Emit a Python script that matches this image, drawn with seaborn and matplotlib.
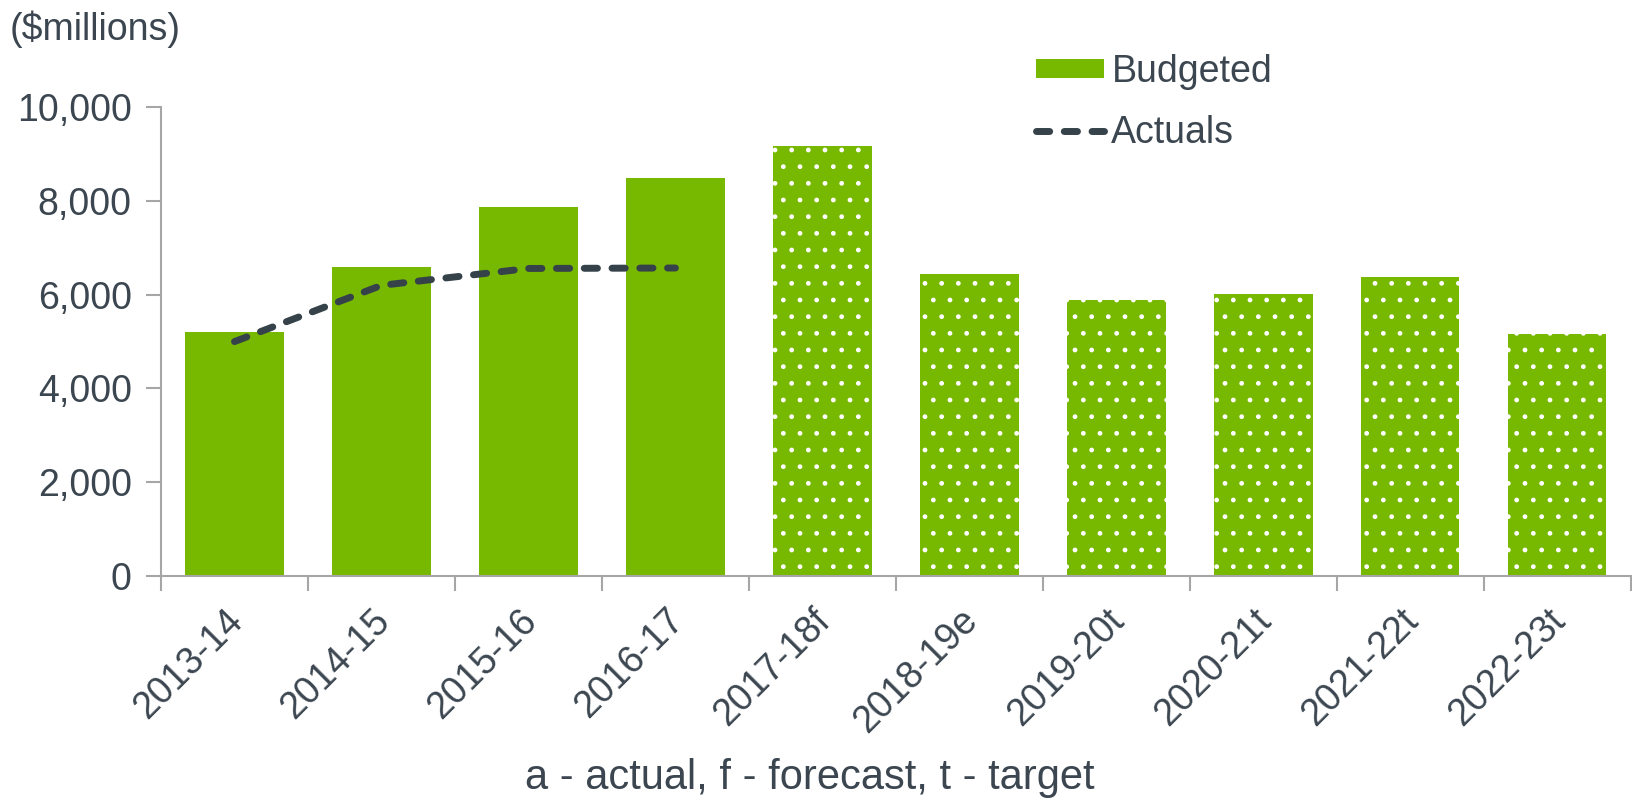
import seaborn as sns
import pandas as pd
import matplotlib.pyplot as plt

years = ["2013-14", "2014-15", "2015-16", "2016-17", "2017-18f",
         "2018-19e", "2019-20t", "2020-21t", "2021-22t", "2022-23t"]
budgeted = [5200, 6600, 7870, 8490, 9180, 6440, 5890, 6020, 6380, 5160]
actual_years = ["2013-14", "2014-15", "2015-16", "2016-17"]
actuals = [5000, 6200, 6560, 6570]
yticks = [0, 2000, 4000, 6000, 8000, 10000]

GREEN = "#77b800"
DARK = "#36424a"
TEXT = "#3b4650"
AXIS = "#a6a6a6"
FS = 27

sns.set_theme(style="white")
plt.rcParams["font.family"] = ["Liberation Sans", "DejaVu Sans"]
plt.rcParams["hatch.linewidth"] = 1.0

fig = plt.figure(figsize=(16.33, 8), dpi=100)
ax = fig.add_axes([0.0986, 0.28, 0.9, 0.586])

df = pd.DataFrame({"year": years, "value": budgeted})
sns.barplot(data=df, x="year", y="value", color=GREEN, saturation=1,
            width=0.67, ax=ax, label="Budgeted")
for i, bar in enumerate(ax.patches):
    bar.set_linewidth(0)
    if i >= 4:
        bar.set_hatch(".")
        bar.set_edgecolor("white")

adf = pd.DataFrame({"year": actual_years, "value": actuals})
sns.lineplot(data=adf, x="year", y="value", color=DARK, linewidth=5,
             ax=ax, label="Actuals", sort=False)
line = ax.lines[-1]
line.set_dashes((1.9, 2.1))
line.set_dash_capstyle("round")

ax.set_xlim(-0.5, 9.5)
ax.set_ylim(0, 10000)
ax.set_yticks(yticks)
ax.set_yticklabels([f"{v:,}" for v in yticks])
ax.set_xlabel("")
ax.set_ylabel("")

# category boundary ticks; labels sit on invisible minor ticks near centers
ax.set_xticks([i - 0.5 for i in range(len(years) + 1)])
ax.set_xticklabels([])
ax.set_xticks([i - 0.07 for i in range(len(years))], minor=True)
ax.set_xticklabels(years, minor=True, rotation=45, ha="right", va="top",
                   rotation_mode="anchor", fontsize=FS, color=TEXT)
ax.tick_params(axis="x", which="major", length=11, width=1.5, color=AXIS,
               direction="out", bottom=True)
ax.tick_params(axis="x", which="minor", length=0, pad=19)
ax.tick_params(axis="y", length=11, width=1.5, color=AXIS, direction="out",
               left=True, labelsize=FS, labelcolor=TEXT, pad=10)

sns.despine(ax=ax)
for s in ["left", "bottom"]:
    ax.spines[s].set_color(AXIS)
    ax.spines[s].set_linewidth(1.5)

handles, labels = ax.get_legend_handles_labels()
order = [labels.index("Budgeted"), labels.index("Actuals")]
leg = ax.legend([handles[i] for i in order], [labels[i] for i in order],
                loc="upper left", bbox_to_anchor=(0.614, 0.975),
                bbox_transform=fig.transFigure, frameon=False, fontsize=FS,
                handlelength=1.8, handleheight=0.43, handletextpad=0.2,
                labelspacing=0.67)
for t in leg.get_texts():
    t.set_color(TEXT)

fig.text(0.006, 0.964, "($millions)", fontsize=FS, color=TEXT, va="center")
fig.text(0.496, 0.027, "a - actual, f - forecast, t - target", fontsize=30,
         color=TEXT, ha="center", va="center")

fig.savefig("out.png", dpi=100)
